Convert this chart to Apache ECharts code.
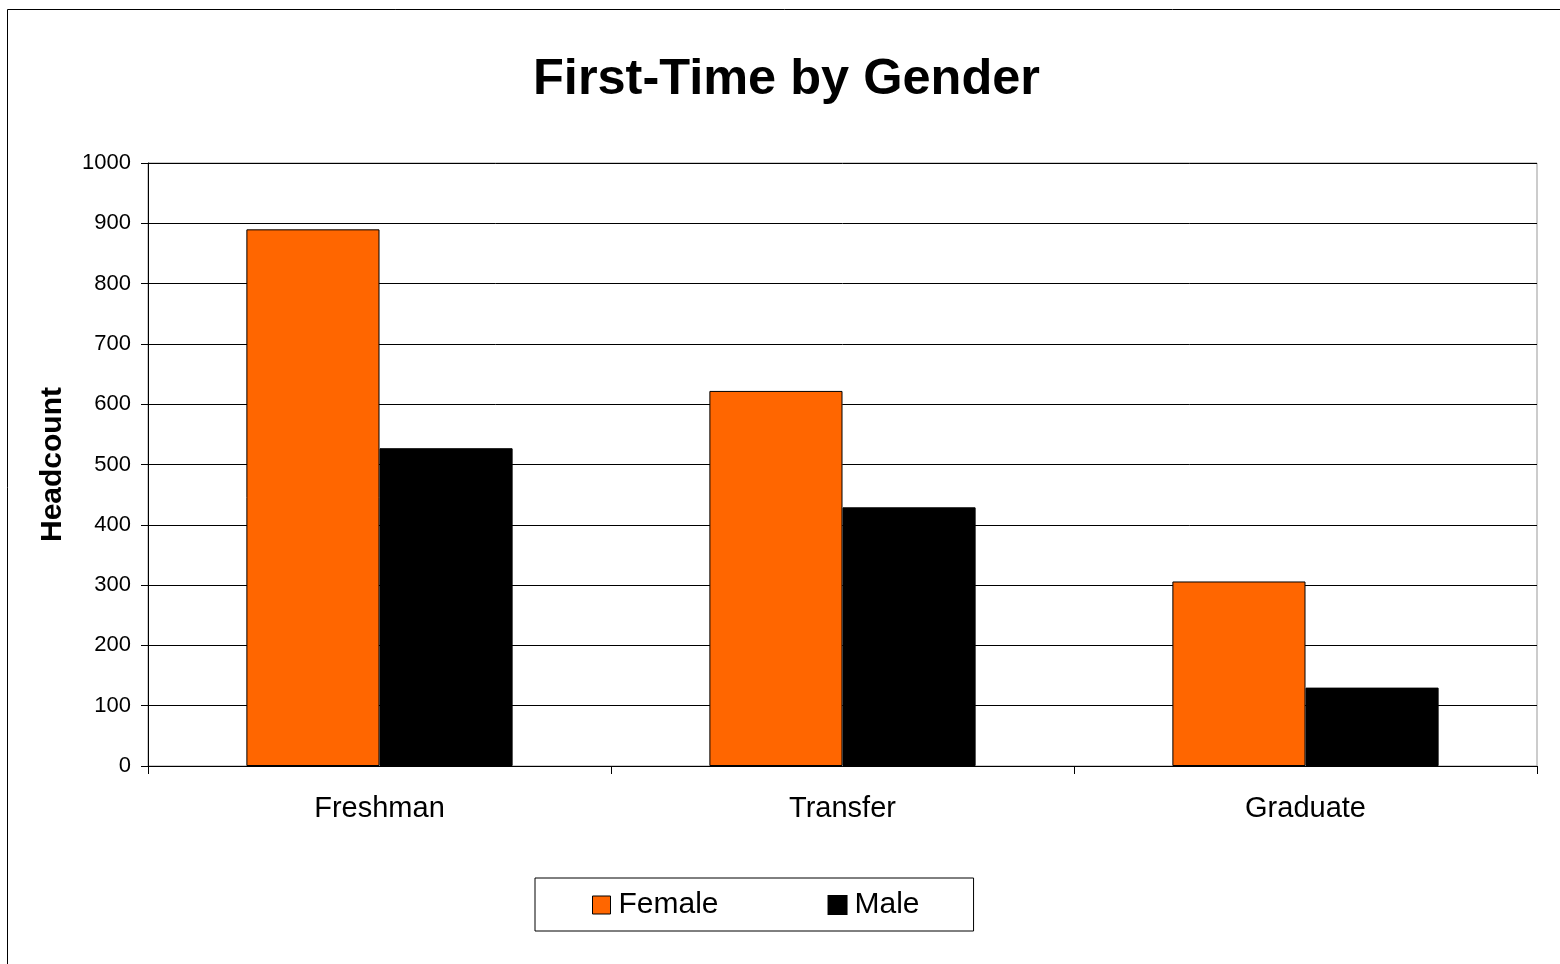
<!DOCTYPE html>
<html>
<head>
<meta charset="utf-8">
<script src="https://cdn.jsdelivr.net/npm/echarts@6/dist/echarts.min.js"></script>
<style>html,body{margin:0;padding:0;background:#fff}#c{width:1560px;height:964px}</style>
</head>
<body>
<div id="c"></div>
<script>
const categories = ['Freshman', 'Transfer', 'Graduate'];
const female = [890, 622, 306];
const male = [527, 429, 130];
const yTicks = [0, 100, 200, 300, 400, 500, 600, 700, 800, 900, 1000];

const chart = echarts.init(document.getElementById('c'));
const FONT = '"Liberation Sans", Arial, sans-serif';
chart.setOption({
  backgroundColor: '#fff',
  animation: false,
  graphic: [{
    type: 'rect', silent: true, z: -10,
    shape: { x: 7.5, y: 9.5, width: 1600, height: 1000 },
    style: { fill: 'none', stroke: '#000', lineWidth: 1 }
  }],
  title: {
    text: 'First-Time by Gender',
    left: 528, top: 50,
    textStyle: { fontFamily: FONT, fontSize: 50.5, fontWeight: 'bold', color: '#000' }
  },
  legend: {
    left: 535, top: 878,
    itemWidth: 18, itemHeight: 18, itemGap: 109,
    padding: [12, 54, 11, 57],
    borderColor: '#000', borderWidth: 1,
    textStyle: { fontFamily: FONT, fontSize: 30, color: '#000', padding: [5, 0, 0, 3] },
    data: [
      { name: 'Female', icon: 'rect', itemStyle: { color: '#FF6600', borderColor: '#000', borderWidth: 1 } },
      { name: 'Male', icon: 'rect', itemStyle: { color: '#000' } }
    ]
  },
  grid: {
    left: 148, right: 23, top: 163, bottom: 198,
    show: true, borderColor: '#999', borderWidth: 1, backgroundColor: '#fff'
  },
  xAxis: {
    type: 'category', data: categories,
    axisLine: { lineStyle: { color: '#000', width: 1 } },
    axisTick: { show: true, length: 8, alignWithLabel: false, lineStyle: { color: '#000' } },
    axisLabel: { fontFamily: FONT, fontSize: 29, color: '#000', margin: 28 },
    splitLine: { show: false }
  },
  yAxis: {
    type: 'value', min: yTicks[0], max: yTicks[yTicks.length - 1], interval: 100,
    name: 'Headcount', nameLocation: 'middle', nameGap: 80, nameRotate: 90,
    nameTextStyle: { fontFamily: FONT, fontSize: 30, fontWeight: 'bold', color: '#000' },
    axisLine: { show: true, lineStyle: { color: '#000', width: 1 } },
    axisTick: { show: true, length: 7, lineStyle: { color: '#000' } },
    axisLabel: { fontFamily: FONT, fontSize: 22, color: '#000', margin: 17, formatter: v => String(v) },
    splitLine: { show: true, lineStyle: { color: '#000', width: 1 } }
  },
  series: [
    {
      name: 'Female', type: 'bar', data: female,
      barGap: '0%', barCategoryGap: '42.5%',
      itemStyle: { color: '#FF6600', borderColor: '#000', borderWidth: 1 }
    },
    {
      name: 'Male', type: 'bar', data: male,
      itemStyle: { color: '#000', borderColor: '#000', borderWidth: 1 }
    }
  ]
});
</script>
</body>
</html>
